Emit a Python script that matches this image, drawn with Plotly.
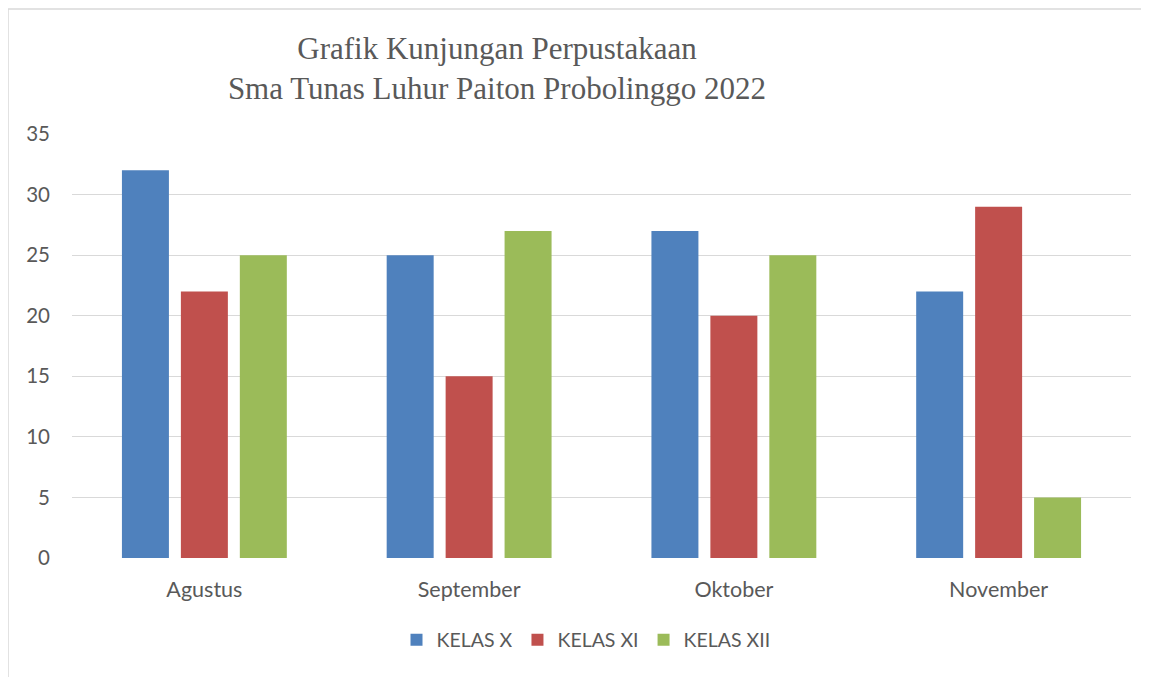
import plotly.graph_objects as go

months = ["Agustus", "September", "Oktober", "November"]
kelas_x = [32, 25, 27, 22]
kelas_xi = [22, 15, 20, 29]
kelas_xii = [25, 27, 25, 5]
series_names = ["KELAS X", "KELAS XI", "KELAS XII"]
colors = ["#4F81BD", "#C0504D", "#9BBB59"]
y_ticks = [0, 5, 10, 15, 20, 25, 30, 35]

fig = go.Figure()
for name, vals, col in zip(series_names, [kelas_x, kelas_xi, kelas_xii], colors):
    fig.add_trace(go.Bar(x=months, y=vals, name=name, marker=dict(color=col, line=dict(width=0))))

# the page body has an 8px margin, so the figure is offset by 8px
OFF = 8
W, H = 1149 - OFF, 677 - OFF
L, R, T, B = 72 - OFF, 18, 134 - OFF, 119
pw = W - L - R
ph = H - T - B

fig.update_layout(
    width=W, height=H,
    margin=dict(l=L, r=R, t=T, b=B),
    paper_bgcolor="white", plot_bgcolor="white",
    barmode="group", bargap=0.332, bargroupgap=0.203,
    title=dict(
        text="Grafik Kunjungan Perpustakaan<br>Sma Tunas Luhur Paiton Probolinggo 2022",
        x=(497 - OFF) / W, xanchor="center",
        y=1 - (59 - OFF) / H, yanchor="middle",
        font=dict(family="Liberation Serif", size=31, color="#595959"),
    ),
    font=dict(family="Lato", size=18, color="#595959"),
    xaxis=dict(showgrid=False, showline=False, ticks="", ticklabelstandoff=16,
               tickfont=dict(size=21.5, color="#595959")),
    yaxis=dict(range=[0, 35], tickvals=y_ticks, showgrid=True, gridcolor="#D9D9D9", gridwidth=1,
               zeroline=False, showline=False, ticks="", ticklabelstandoff=21,
               tickfont=dict(size=20.5, color="#595959")),
    legend=dict(orientation="h", x=(586 - 72) / pw, xanchor="center", y=(558 - 640) / ph, yanchor="middle",
                font=dict(size=19.5, color="#595959"), itemwidth=30, traceorder="normal"),
    showlegend=True,
)

fig.add_shape(type="rect", xref="paper", yref="paper",
              x0=(8 - 72) / pw, x1=(1149 + 20 - 72) / pw, y0=(558 - 677 - 20) / ph, y1=(558 - 9) / ph,
              line=dict(color="#D9D9D9", width=1.5), fillcolor="rgba(0,0,0,0)", layer="below")

fig.write_html("out.html")
